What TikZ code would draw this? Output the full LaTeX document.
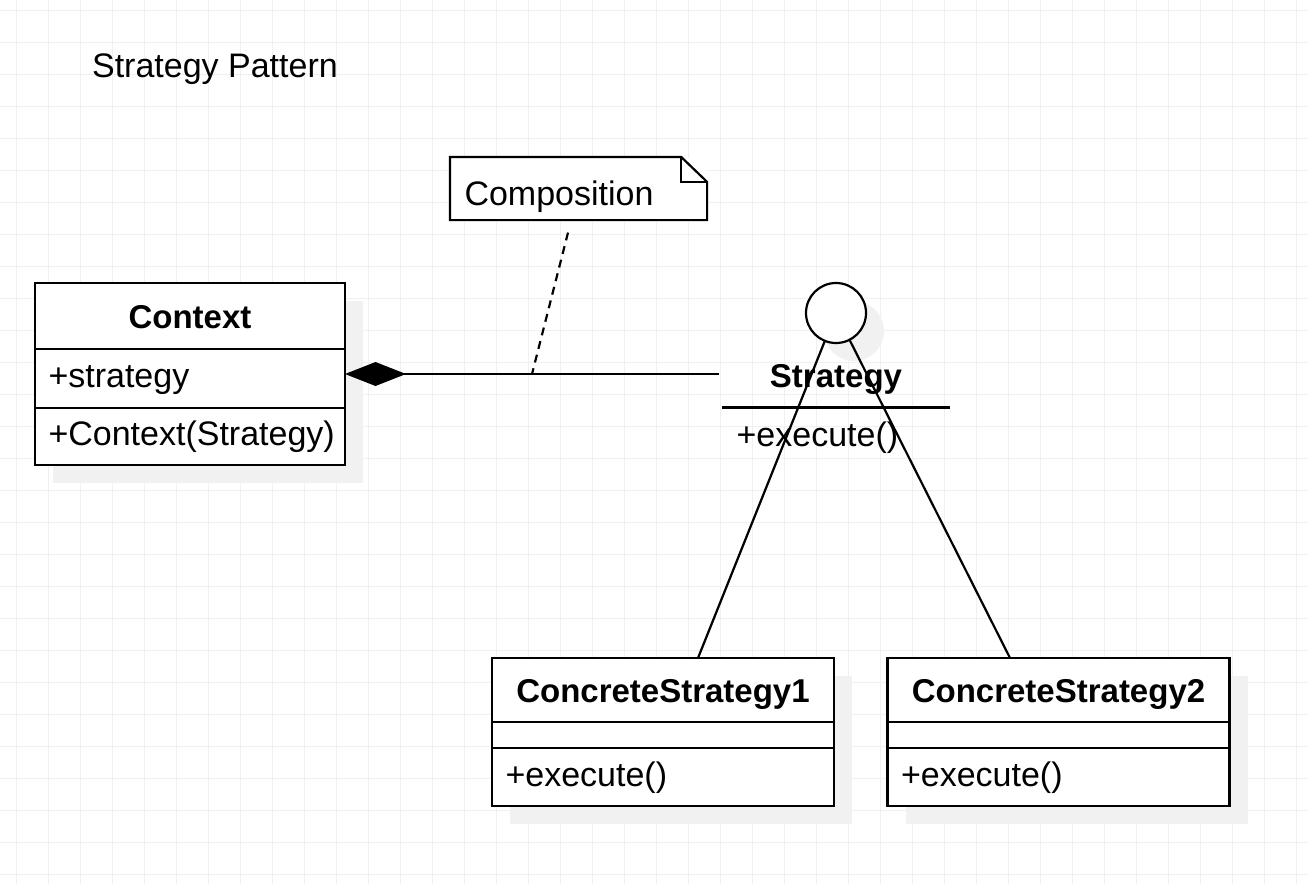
\documentclass[tikz,border=0pt]{standalone}
\usepackage{fontspec}
\setmainfont{Liberation Sans}
\usetikzlibrary{arrows.meta,positioning,shadows}
\definecolor{gridgrey}{RGB}{240,240,240}
\definecolor{shadegrey}{RGB}{241,241,241}

\begin{document}
\begin{tikzpicture}[x=1pt,y=-1pt,line width=2.2pt,
  every node/.style={font=\fontsize{34}{40}\selectfont},
  gridline/.style={line width=1pt,draw=gridgrey},
  umlbox/.style={draw,fill=white,outer sep=0pt,inner xsep=13.5pt,inner ysep=0pt,
    drop shadow={shadow xshift=18pt,shadow yshift=-18pt,fill=shadegrey,opacity=1}},
  headbox/.style={umlbox,font=\fontsize{33}{40}\selectfont\bfseries,text height=24pt,text depth=0pt},
  rowbox/.style={umlbox,align=left,text height=24pt,text depth=6pt},
  blankbox/.style={umlbox,text height=0pt,text depth=0pt},
  composite/.style={-{Diamond[length=61pt,width=24pt]}},
  notelink/.style={dash pattern=on 8pt off 6pt}]
\useasboundingbox (0,0) rectangle (1308,884);

\foreach \gx in {0,...,40} \draw[gridline] ({16.7+32*\gx},0) -- ({16.7+32*\gx},884);
\foreach \gy in {0,...,27} \draw[gridline] (0,{10+32*\gy}) -- (1308,{10+32*\gy});

\node[anchor=base west,inner sep=0pt] (title) at (91,77.3) {Strategy Pattern};

\node[fill=white,align=left,text width=228pt,inner xsep=13.5pt,inner ysep=0pt,
  text height=33pt,text depth=0pt,minimum height=61pt] (note) at (578.5,188.5) {Composition};
\draw (note.north west) -- ([xshift=-26pt]note.north east) -- ([yshift=-25pt]note.north east)
  -- (note.south east) -- (note.south west) -- cycle;
\draw ([xshift=-26pt]note.north east) -- ([xshift=-26pt,yshift=-25pt]note.north east)
  -- ([yshift=-25pt]note.north east);

\node[headbox,minimum width=310pt,minimum height=66pt] (context) at (190,316) {Context};
\node[rowbox,text width=283pt,minimum height=59pt,below=0pt of context] (contextattr) {+strategy};
\node[rowbox,text width=283pt,minimum height=57pt,below=0pt of contextattr] (contextops) {+Context(Strategy)};

\node[umlbox,circle,minimum size=60pt,inner sep=0pt] (iface) at (836,313) {};
\node[font=\fontsize{33}{40}\selectfont\bfseries,text height=24pt,text depth=0pt,inner sep=0pt,
  outer sep=0pt,minimum width=228pt,minimum height=65pt] (strategy) at (836,375) {Strategy};
\draw (strategy.south west) -- (strategy.south east);
\node[anchor=north west,inner xsep=13.5pt,inner ysep=0pt,text height=24pt,text depth=6pt,
  minimum height=57pt] (strategyops) at (strategy.south west) {+execute()};

\node[headbox,minimum width=342pt,minimum height=64pt] (cs1) at (663,690) {ConcreteStrategy1};
\node[blankbox,minimum width=342pt,minimum height=26pt,below=0pt of cs1] (cs1attr) {};
\node[rowbox,text width=315pt,minimum height=58pt,below=0pt of cs1attr] (cs1ops) {+execute()};

\node[headbox,minimum width=342pt,minimum height=64pt] (cs2) at (1058.5,690) {ConcreteStrategy2};
\node[blankbox,minimum width=342pt,minimum height=26pt,below=0pt of cs2] (cs2attr) {};
\node[rowbox,text width=315pt,minimum height=58pt,below=0pt of cs2attr] (cs2ops) {+execute()};

\coordinate (compend) at (719,374);
\draw[composite] (compend) -- (contextattr.east |- compend);
\coordinate (notefoot) at ([xshift=-10.5pt,yshift=-12.5pt]note.south);
\coordinate (compjoin) at (532,374);
\draw[notelink] (notefoot) -- (compjoin);

\draw (iface) -- ([xshift=35pt]cs1.north);
\draw (iface) -- ([xshift=-48.5pt]cs2.north);
\end{tikzpicture}
\end{document}
